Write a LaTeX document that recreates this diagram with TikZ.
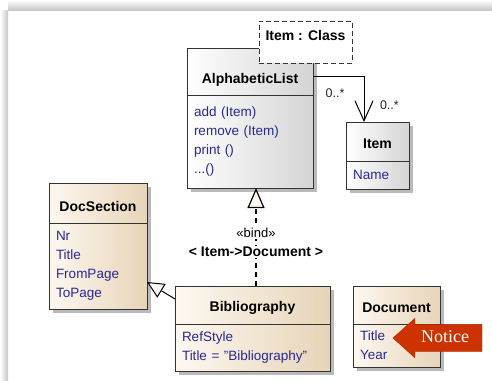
\documentclass[tikz,border=0pt]{standalone}
\usepackage{fontspec}
\setmainfont{Liberation Sans}
\newfontfamily\noticefont{Liberation Serif}
\usetikzlibrary{arrows.meta,shapes.arrows,shadows,positioning}

\definecolor{attrblue}{RGB}{40,40,150}
\definecolor{tanL}{RGB}{253,248,240}
\definecolor{tanR}{RGB}{231,212,184}
\definecolor{greyR}{RGB}{212,212,212}
\definecolor{noticered}{RGB}{204,51,0}

\begin{document}
\begin{tikzpicture}[x=1pt,y=-1pt,
  every node/.style={inner sep=0pt,outer sep=0pt},
  classhead/.style={draw=black!80,line width=1pt,anchor=north west,align=center,
    font=\fontsize{14}{17}\selectfont\bfseries},
  classbody/.style={draw=black!80,line width=1pt,anchor=north west,align=left,
    inner xsep=7pt,text=attrblue,font=\fontsize{13.5}{19}\selectfont},
  greyfill/.style={left color=white,right color=greyR},
  tanfill/.style={left color=tanL,right color=tanR},
  boxshadow/.style={drop shadow={shadow xshift=4pt,shadow yshift=-4pt,fill=black!45,opacity=.6}},
  tparam/.style={draw=black!80,line width=1pt,dash pattern=on 5pt off 3pt,fill=white,
    anchor=north west,minimum width=93pt,text height=19pt,text depth=23pt,
    font=\fontsize{14}{17}\selectfont\bfseries},
  mult/.style={font=\fontsize{12.5}{14}\selectfont,text=black!85},
  assoc/.style={line width=1pt,-{Straight Barb[length=20pt,width=18pt]}},
  realize/.style={line width=1.2pt,dash pattern=on 5pt off 4pt,
    -{Triangle[length=20pt,width=17pt,fill=tanL]}},
  generalize/.style={line width=1pt,-{Triangle[length=17pt,width=16pt,fill=tanL]}},
  bindtag/.style={fill=white,inner sep=1pt,font=\fontsize{13}{14}\selectfont},
  bindargs/.style={fill=white,inner sep=1pt,font=\fontsize{14}{16}\selectfont\bfseries},
  notice/.style={single arrow,shape border rotate=180,fill=noticered,
    draw=noticered!80!black,text=white,font=\noticefont\fontsize{18}{20}\selectfont,
    minimum height=89pt,single arrow head extend=6pt,single arrow tip angle=84,
    inner xsep=4pt,inner ysep=6pt,text height=12pt,text depth=3pt}]

\useasboundingbox (0,0) rectangle (492,380);
% window edge
\fill[top color=white,bottom color=black!22] (8,0) rectangle (492,10);
\fill[left color=white,right color=black!22] (0,10) rectangle (8,380);

% AlphabeticList
\node[classhead,greyfill,boxshadow,text width=126pt,text height=35pt,text depth=12pt]
  (alisthead) at (187,48) {AlphabeticList};
\node[classbody,greyfill,boxshadow,below=0pt of alisthead,text width=112pt,minimum height=93pt]
  (alistbody) {add (Item)\\remove (Item)\\print ()\\...()};
\node[tparam] (tparam) at (259,21) {Item : Class};

% Item
\node[classhead,greyfill,boxshadow,text width=63pt,text height=26pt,text depth=13pt]
  (itemhead) at (346,122) {Item};
\node[classbody,greyfill,boxshadow,below=0pt of itemhead,text width=49pt,minimum height=28pt]
  (itembody) {Name};

% DocSection
\node[classhead,tanfill,boxshadow,text width=98pt,text height=28pt,text depth=12pt]
  (dochead) at (49,183) {DocSection};
\node[classbody,tanfill,boxshadow,below=0pt of dochead,text width=84pt,minimum height=86pt]
  (docbody) {Nr\\Title\\FromPage\\ToPage};

% Bibliography
\node[classhead,tanfill,boxshadow,text width=155pt,text height=25pt,text depth=13pt]
  (bibhead) at (175,286) {Bibliography};
\node[classbody,tanfill,boxshadow,below=0pt of bibhead,text width=141pt,minimum height=47pt]
  (bibbody) {RefStyle\\Title = "Bibliography"};

% Document
\node[classhead,tanfill,boxshadow,text width=87pt,text height=26pt,text depth=12pt]
  (dochead2) at (353,286) {Document};
\node[classbody,tanfill,boxshadow,below=0pt of dochead2,text width=73pt,minimum height=43pt]
  (docbody2) {Title\\Year};

% connectors
\draw[assoc] ([yshift=-4.5pt]alisthead.east) -|
  node[mult,pos=.216,below=12.5pt] {0..*}
  node[mult,pos=.822,right=16pt] {0..*}
  ([xshift=-13.5pt]itemhead.north);
\draw[realize] ([xshift=3.5pt]bibhead.north) --
  node[bindargs,pos=.35] {< Item->Document >}
  node[bindtag,pos=.54] {«bind»}
  ([xshift=3.5pt]bibhead.north |- alistbody.south);
\draw[generalize] ([yshift=6pt]bibhead.west) -- ([yshift=-16pt]docbody.east);

\node[notice,anchor=tip] (notice) at (393,338) {Notice};
\end{tikzpicture}
\end{document}
